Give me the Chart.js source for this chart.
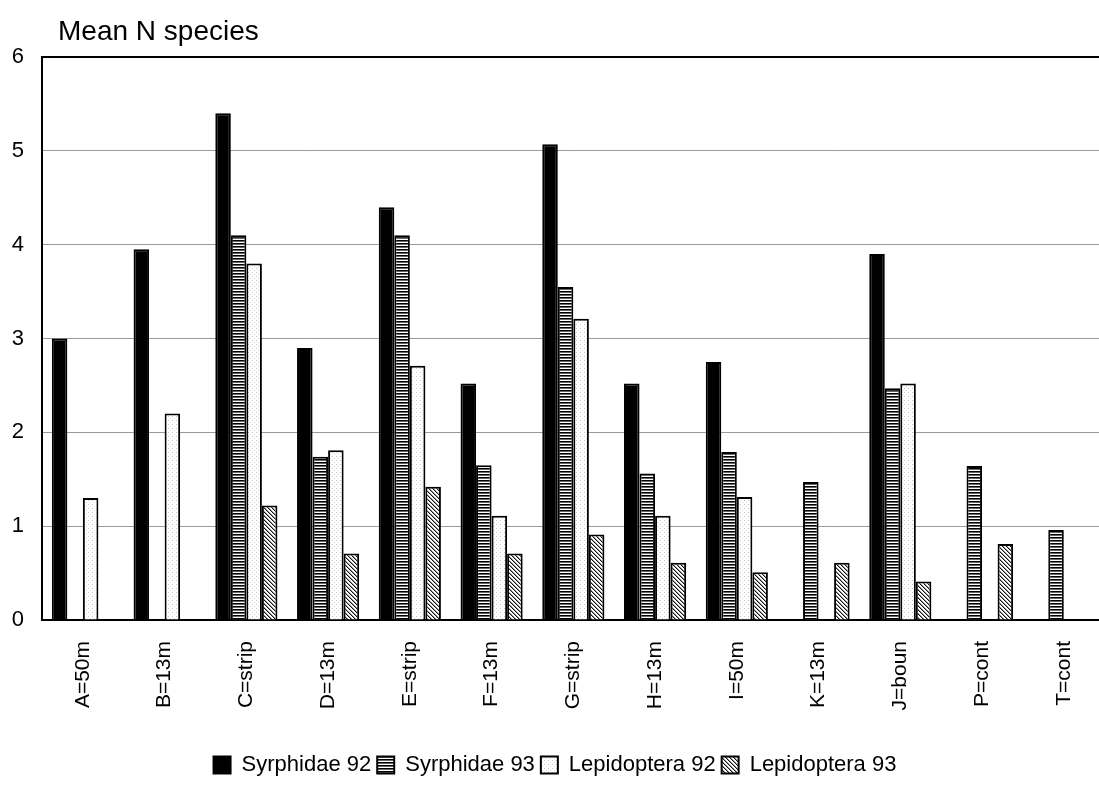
<!DOCTYPE html>
<html><head><meta charset="utf-8">
<script src="https://cdn.jsdelivr.net/npm/chart.js@4.4.1/dist/chart.umd.min.js"></script>
<style>
html,body{margin:0;padding:0;background:#fff;overflow:hidden;}
#wrap{position:absolute;left:0;top:0;width:1110px;height:794px;}
</style></head><body>
<div id="wrap"><canvas id="c"></canvas></div>
<script>
const categories = ['A=50m','B=13m','C=strip','D=13m','E=strip','F=13m','G=strip','H=13m','I=50m','K=13m','J=boun','P=cont','T=cont'];
const syrphidae92   = [3.0, 3.95, 5.4, 2.9, 4.4, 2.52, 5.07, 2.52, 2.75, null, 3.9, null, null];
const syrphidae93   = [null, null, 4.1, 1.74, 4.1, 1.65, 3.55, 1.56, 1.79, 1.47, 2.47, 1.64, 0.96];
const lepidoptera92 = [1.3, 2.2, 3.8, 1.81, 2.71, 1.11, 3.21, 1.11, 1.31, null, 2.52, null, null];
const lepidoptera93 = [null, null, 1.22, 0.71, 1.42, 0.71, 0.91, 0.61, 0.51, 0.61, 0.41, 0.81, null];
const seriesNames = ['Syrphidae 92','Syrphidae 93','Lepidoptera 92','Lepidoptera 93'];
const yMin = 0, yMax = 6, yStep = 1;
const axisTitle = 'Mean N species';

const FONT = '"Liberation Sans", Arial, Helvetica, sans-serif';

function makePattern(w, h, draw) {
  const c = document.createElement('canvas');
  c.width = w; c.height = h;
  const x = c.getContext('2d');
  x.fillStyle = '#fff'; x.fillRect(0, 0, w, h);
  draw(x);
  return x.createPattern(c, 'repeat');
}
const hStripes = makePattern(4, 3, x => { x.fillStyle = '#000'; x.fillRect(0, 0, 4, 1); x.fillStyle = '#666'; x.fillRect(0, 1, 4, 1); });
const dots = makePattern(4, 4, x => { x.fillStyle = '#c4c4c4'; x.fillRect(0, 0, 1, 1); x.fillStyle = '#dcdcdc'; x.fillRect(2, 2, 1, 1); });
const diag = makePattern(4, 4, x => {
  for (let i = 0; i < 4; i++) { x.fillStyle = '#111'; x.fillRect(i, i, 1, 1); x.fillStyle = '#999'; x.fillRect((i + 1) % 4, i, 1, 1); }
});

const titlePlugin = {
  id: 'topTitle',
  afterDraw(chart) {
    const ctx = chart.ctx;
    ctx.save();
    ctx.font = '28px ' + FONT;
    ctx.fillStyle = '#000';
    ctx.textBaseline = 'alphabetic';
    ctx.textAlign = 'left';
    ctx.fillText(axisTitle, 58, 40);
    ctx.restore();
  }
};

const common = { borderColor: '#000', borderWidth: 2, borderSkipped: 'start', categoryPercentage: 0.76, barPercentage: 1.0 };

new Chart(document.getElementById('c'), {
  type: 'bar',
  data: {
    labels: categories,
    datasets: [
      Object.assign({ label: seriesNames[0], data: syrphidae92, backgroundColor: '#000' }, common),
      Object.assign({ label: seriesNames[1], data: syrphidae93, backgroundColor: hStripes }, common),
      Object.assign({ label: seriesNames[2], data: lepidoptera92, backgroundColor: dots }, common),
      Object.assign({ label: seriesNames[3], data: lepidoptera93, backgroundColor: diag }, common)
    ]
  },
  options: {
    responsive: true,
    maintainAspectRatio: false,
    animation: false,
    layout: { padding: { top: 57, left: 0, right: 0, bottom: 8 } },
    plugins: {
      tooltip: { enabled: false },
      title: { display: false },
      legend: {
        position: 'bottom',
        labels: {
          color: '#000',
          font: { family: FONT, size: 22 },
          boxWidth: 17, boxHeight: 17,
          padding: 6
        }
      }
    },
    scales: {
      x: {
        grid: { display: false, drawTicks: false },
        border: { color: '#000', width: 2 },
        ticks: { color: '#000', font: { family: FONT, size: 21 }, minRotation: 90, maxRotation: 90, padding: 21, autoSkip: false },
        afterFit: s => { s.height = 128; }
      },
      y: {
        min: yMin, max: yMax,
        ticks: { stepSize: yStep, color: '#000', font: { family: FONT, size: 22 }, padding: 18 },
        grid: {
          drawTicks: false,
          color: c => (c.tick && c.tick.value === yMax) ? '#000' : '#9a9a9a',
          lineWidth: c => (c.tick && c.tick.value === yMax) ? 2 : 1
        },
        border: { color: '#000', width: 2 },
        afterFit: s => { s.width = 42; }
      }
    }
  },
  plugins: [titlePlugin]
});
</script>
</body></html>
